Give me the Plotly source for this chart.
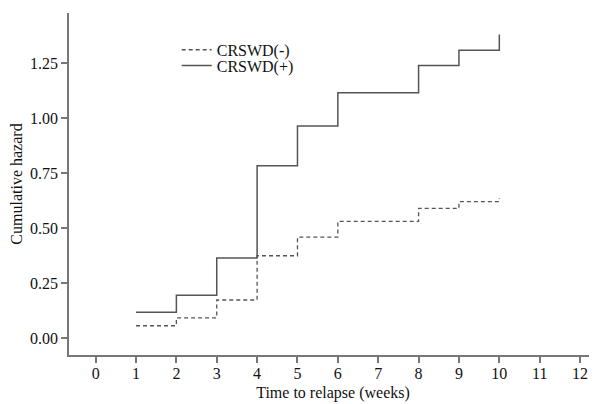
import plotly.graph_objects as go

# Data
time_neg = [1, 2, 3, 4, 5, 6, 8, 9, 10]
hazard_neg = [0.056, 0.092, 0.173, 0.374, 0.459, 0.530, 0.589, 0.620, 0.634]
time_pos = [1, 2, 3, 4, 5, 6, 8, 9, 10]
hazard_pos = [0.117, 0.195, 0.364, 0.783, 0.964, 1.115, 1.238, 1.308, 1.379]
x_ticks = list(range(0, 13))
y_ticks = [0.0, 0.25, 0.5, 0.75, 1.0, 1.25]
y_tick_labels = ["0.00", "0.25", "0.50", "0.75", "1.00", "1.25"]

font_family = "Liberation Serif, Times New Roman, serif"
axis_color = "#777777"
line_color = "#555555"

fig = go.Figure()
fig.add_trace(go.Scatter(
    x=time_neg, y=hazard_neg, mode="lines", line_shape="hv",
    name="CRSWD(-)", legend="legend",
    line=dict(color=line_color, width=1.3, dash="4px,3px"),
))
fig.add_trace(go.Scatter(
    x=time_pos, y=hazard_pos, mode="lines", line_shape="hv",
    name="CRSWD(+)", legend="legend2",
    line=dict(color=line_color, width=1.5),
))

legend_common = dict(
    xanchor="left", yanchor="top",
    bgcolor="rgba(0,0,0,0)", font=dict(size=16),
    itemwidth=30,
)

# page body has an 8px default margin; size the figure so it fills the window
fig.update_layout(
    width=589, height=396,
    margin=dict(l=61, r=0, t=5, b=49, autoexpand=False),
    plot_bgcolor="white", paper_bgcolor="white",
    font=dict(family=font_family, size=16, color="#111111"),
    showlegend=True,
    legend=dict(x=0.204, y=0.942, **legend_common),
    legend2=dict(x=0.204, y=0.896, **legend_common),
    xaxis=dict(
        range=[-0.66, 12.42], tickvals=x_ticks,
        showline=True, linecolor=axis_color, linewidth=1.5,
        ticks="outside", ticklen=6, tickcolor=axis_color, tickwidth=1.5,
        showgrid=False, zeroline=False, automargin=False,
        tickfont=dict(size=16), ticklabelstandoff=-3,
        title=dict(text="Time to relapse (weeks)", font=dict(size=16), standoff=6),
    ),
    yaxis=dict(
        range=[-0.077, 1.477], tickvals=y_ticks, ticktext=y_tick_labels,
        showline=True, linecolor=axis_color, linewidth=1.5,
        ticks="outside", ticklen=6, tickcolor=axis_color, tickwidth=1.5,
        showgrid=False, zeroline=False, automargin=False,
        tickfont=dict(size=16),
        title=dict(text="Cumulative hazard", font=dict(size=16), standoff=8),
    ),
)

fig.write_html("out.html")
